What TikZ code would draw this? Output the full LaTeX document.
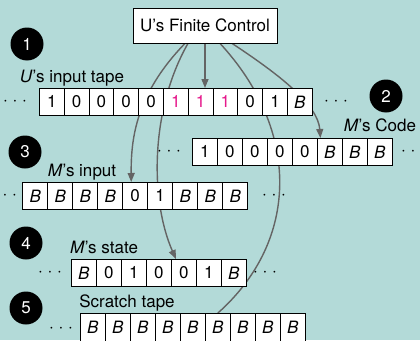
\documentclass[tikz,border=0pt]{standalone}
\usepackage{fontspec}
\setmainfont{TeX Gyre Heros}
\usetikzlibrary{arrows.meta,backgrounds,calc}
\definecolor{bgteal}{RGB}{179,218,216}
\definecolor{hilite}{RGB}{230,25,140}
\definecolor{wire}{RGB}{100,100,100}
\newcommand\tdots{$\cdotp\mkern2mu\cdotp\mkern2mu\cdotp$}
\newcommand\hl{\color{hilite}}
\newcommand\tb{\textit{B}}
\begin{document}
\begin{tikzpicture}[x=1pt,y=-1pt,
  every node/.style={font=\fontsize{17}{20}\selectfont},
  cell/.style={draw=black, line width=0.8pt, fill=white, minimum width=#1, minimum height=27pt, inner sep=0pt, anchor=north west},
  cell/.default=25pt,
  badge/.style={circle, fill=black, text=white, minimum size=33pt, inner sep=0pt},
  lab/.style={anchor=base},
  dotsn/.style={inner sep=0pt},
  wirel/.style={draw=wire, line width=1.4pt},
  wirea/.style={wirel, -{Triangle[length=9pt,width=7pt]}},
  ctrlbox/.style={draw=black, line width=0.8pt, fill=white, minimum width=144pt, minimum height=35pt, inner sep=0pt}
]
\useasboundingbox (0,0) rectangle (420,340);
\clip (0,0) rectangle (420,340);

% finite control
\node[ctrlbox] (ctrl) at (205,25.5) {U’s Finite Control};

% tape 1: U's input tape
\foreach \v [count=\i] in {1,0,0,0,0,\hl1,\hl1,\hl1,0,1,\tb}
  \node[cell=24.8pt] (ta\i) at ({39+24.8*(\i-1)},88) {\v};
\node[dotsn] (da1) at (15,101.5) {\tdots};
\node[dotsn] (da2) at (336,101.5) {\tdots};
\node[lab] (lab1) at (72,82) {\textit{U}’s input tape};
\node[badge] (n1) at (27,44) {1};

% tape 2: M's code
\foreach \v [count=\i] in {1,0,0,0,0,\tb,\tb,\tb}
  \node[cell] (tb\i) at ({192+25*(\i-1)},138) {\v};
\node[dotsn] (db1) at (169,152) {\tdots};
\node[dotsn] (db2) at (413,152) {\tdots};
\node[lab] (lab2) at (380,131) {\textit{M}’s Code};
\node[badge] (n2) at (386,96) {2};

% tape 3: M's input
\foreach \v [count=\i] in {\tb,\tb,\tb,\tb,0,1,\tb,\tb,\tb}
  \node[cell] (tc\i) at ({22.3+25*(\i-1)},182) {\v};
\node[dotsn] (dc1) at (5,195.5) {\tdots};
\node[dotsn] (dc2) at (274,195.5) {\tdots};
\node[lab] (lab3) at (82,176) {\textit{M}’s input};
\node[badge] (n3) at (25,152) {3};

% tape 4: M's state
\foreach \v [count=\i] in {\tb,0,1,0,0,1,\tb}
  \node[cell] (td\i) at ({71+25*(\i-1)},259) {\v};
\node[dotsn] (dd1) at (50,272.5) {\tdots};
\node[dotsn] (dd2) at (265,272.5) {\tdots};
\node[lab] (lab4) at (104,253) {\textit{M}’s state};
\node[badge] (n4) at (26,243) {4};

% tape 5: scratch tape
\foreach \v [count=\i] in {\tb,\tb,\tb,\tb,\tb,\tb,\tb,\tb,\tb}
  \node[cell, minimum height=30pt] (te\i) at ({80+25*(\i-1)},313) {\raisebox{1.5pt}{\v}};
\node[dotsn] (de1) at (61,329) {\tdots};
\node[lab] (lab5) at (127,307) {Scratch tape};
\node[badge] (n5) at (26,308) {5};

% connectors behind everything
\begin{scope}[on background layer]
  \fill[bgteal] (0,0) rectangle (420,340);
  \draw[wirea] ([xshift=-20pt]ctrl.south) .. controls (135,95) and (131,140) .. ([xshift=-4pt]tc5.north);
  \draw[wirea] ([xshift=-17pt]ctrl.south) .. controls (150,110) and (150,200) .. ([xshift=-8pt]td5.north);
  \draw[wirea] (ctrl.south) -- (ctrl.south |- ta7.north);
  \draw[wirel] ([xshift=15pt]ctrl.south) .. controls (300,130) and (300,240) .. (te6.north);
  \draw[wirea] ([xshift=27pt]ctrl.south) .. controls (280,75) and (318,105) .. ([xshift=-9.5pt]tb6.north);
\end{scope}
\end{tikzpicture}
\end{document}
